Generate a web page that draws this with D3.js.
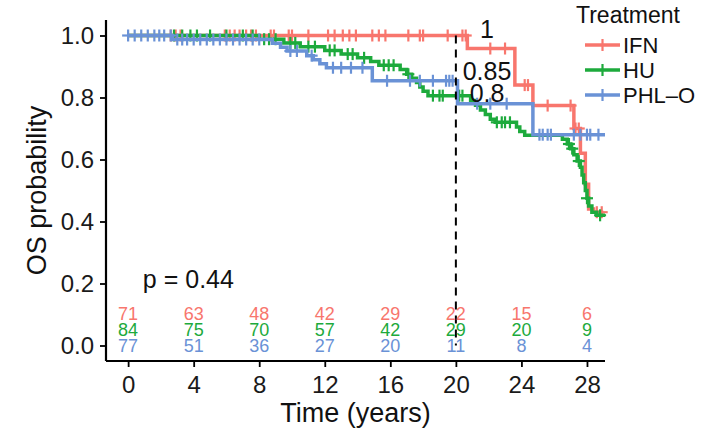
<!DOCTYPE html>
<html><head><meta charset="utf-8">
<script src="https://cdn.jsdelivr.net/npm/d3@7"></script>
<style>body{margin:0;background:#fff}svg{display:block;font-family:"Liberation Sans",Arial,sans-serif}</style>
</head><body><svg id="c" width="703" height="434"></svg>
<script>
const groups = ["IFN","HU","PHL\u2013O"];
const colors = ["#F8766D","#1DAA3C","#6A92D6"];
// step curves: time of event and survival after it
const ifnT = [0, 20.7, 23.6, 24.7, 27.2, 27.6, 27.9, 28.1, 28.4];
const ifnS = [1, 0.958, 0.84, 0.774, 0.70, 0.62, 0.52, 0.44, 0.43];
const ifnEnd = 29.0;
const ifnCens = [2.6,2.9,3.2,5.9,6.2,6.5,6.8,7.2,7.5,7.8,8.7,8.9,9.8,10.0,11.0,12.2,12.6,13.1,13.5,13.9,14.9,15.3,15.7,17.1,17.8,18.0,19.5,20.4,20.6,22.1,23.0,24.2,24.4,25.6,27.0,27.3,27.5,28.6,28.9];
const huT = [0, 8.0, 9.5, 10.5, 12.0, 13.0, 14.0, 14.8, 15.3, 16.6, 17.0, 17.3, 17.6, 17.8, 18.0, 18.3, 20.9, 21.2, 21.5, 21.8, 22.1, 22.4, 23.7, 23.9, 24.2, 26.5, 26.8, 27.0, 27.2, 27.4, 27.6, 27.7, 27.8, 27.9, 28.0, 28.1, 28.3, 28.6];
const huS = [1, 0.988, 0.976, 0.964, 0.952, 0.94, 0.928, 0.916, 0.904, 0.89, 0.875, 0.862, 0.848, 0.834, 0.82, 0.806, 0.79, 0.775, 0.76, 0.745, 0.73, 0.72, 0.705, 0.69, 0.678, 0.665, 0.65, 0.635, 0.615, 0.595, 0.575, 0.55, 0.525, 0.50, 0.475, 0.45, 0.43, 0.42];
const huEnd = 29.1;
const huCens = [2.8,3.3,3.8,4.2,5.0,6.0,7.0,7.6,8.3,8.6,9.0,9.9,10.2,11.0,11.4,12.3,12.6,13.4,13.7,14.4,15.6,15.9,16.2,17.1,18.6,19.0,19.2,20.2,20.4,22.5,22.8,23.0,23.3,26.9,27.1,27.5,28.0,28.8];
const phlT = [0, 2.7, 8.8, 9.3, 9.7, 10.9, 11.3, 11.7, 12.1, 14.9, 20.1, 24.7];
const phlS = [1, 0.987, 0.975, 0.962, 0.950, 0.935, 0.922, 0.909, 0.896, 0.854, 0.78, 0.68];
const phlEnd = 29.1;
const phlCens = [0.0,0.4,0.8,1.2,1.6,1.9,2.2,2.6,3.0,3.3,3.6,4.0,4.4,4.8,5.2,5.6,6.0,6.4,6.8,7.2,7.6,8.0,9.9,10.3,11.2,12.5,13.0,13.6,14.3,15.8,17.2,17.8,18.6,19.4,19.6,19.8,21.3,22.1,23.1,25.1,25.3,25.6,25.8,27.2,27.6,28.0,28.2,28.7];
const xTicks = [0,4,8,12,16,20,24,28];
const yTicks = [0,0.2,0.4,0.6,0.8,1.0];
const riskIFN = [71,63,48,42,29,22,15,6];
const riskHU = [84,75,70,57,42,29,20,9];
const riskPHL = [77,51,36,27,20,11,8,4];
const pText = "p = 0.44";
const markTime = 20;
const markVals = ["1","0.85","0.8"];
const markS = [1, 0.85, 0.8];

const series = [
  {T:ifnT,S:ifnS,end:ifnEnd,cens:ifnCens,risk:riskIFN},
  {T:huT,S:huS,end:huEnd,cens:huCens,risk:riskHU},
  {T:phlT,S:phlS,end:phlEnd,cens:phlCens,risk:riskPHL}
];

const svg = d3.select("#c");
const x = d3.scaleLinear().domain([-1.35, 29.1]).range([106, 605]);
const y = d3.scaleLinear().domain([-0.05, 1.05]).range([361, 20]);

function survAt(s, t){ let v = s.S[0]; for(let i=0;i<s.T.length;i++){ if(s.T[i]<=t) v=s.S[i]; } return v; }

// axes
const gx = svg.append("g").attr("transform","translate(0,361)")
  .call(d3.axisBottom(x).tickValues(xTicks).tickSize(6).tickPadding(9).tickFormat(d3.format("d")));
const gy = svg.append("g").attr("transform","translate(106,0)")
  .call(d3.axisLeft(y).tickValues(yTicks).tickSize(6).tickPadding(6).tickFormat(d3.format(".1f")));
[gx,gy].forEach(g=>{
  g.select(".domain").attr("stroke","#000").attr("stroke-width",2.2);
  g.selectAll(".tick line").attr("stroke","#000").attr("stroke-width",1.8);
  g.selectAll(".tick text").attr("fill","#1a1a1a").style("font-size","24px").style("font-family","Liberation Sans, Arial, sans-serif");
});
gx.select(".domain").attr("d","M106,0H605");
gy.select(".domain").attr("d","M0,20V361");

// curves
const line = d3.line().curve(d3.curveStepAfter).x(d=>x(d[0])).y(d=>y(d[1]));
series.forEach((s,i)=>{
  const pts = s.T.map((t,k)=>[t,s.S[k]]);
  pts.push([s.end, s.S[s.S.length-1]]);
  svg.append("path").attr("d",line(pts)).attr("fill","none")
    .attr("stroke",colors[i]).attr("stroke-width",3.5);
  const g = svg.append("g").attr("stroke",colors[i]).attr("stroke-width",2.2);
  s.cens.forEach(t=>{
    const cx = x(t), cy = y(survAt(s,t));
    g.append("line").attr("x1",cx).attr("x2",cx).attr("y1",cy-6).attr("y2",cy+6);
    g.append("line").attr("x1",cx-6).attr("x2",cx+6).attr("y1",cy).attr("y2",cy);
  });
});

// dashed marker line
svg.append("line").attr("x1",x(markTime)).attr("x2",x(markTime))
  .attr("y1",y(1)).attr("y2",y(0)).attr("stroke","#000").attr("stroke-width",2)
  .attr("stroke-dasharray","8,6");
const labOff = [2.5,-2,4.5];
markVals.forEach((m,i)=>{
  svg.append("text").attr("x",x(21.9)).attr("y",y(markS[i])+labOff[i])
    .attr("text-anchor","middle").style("font-size","25px").attr("fill","#111").text(m);
});

// p value
svg.append("text").attr("x",x(0.9)).attr("y",288).style("font-size","25px").attr("fill","#111").text(pText);

// risk numbers
const rowY = [320,336,352];
series.forEach((s,i)=>{
  s.risk.forEach((n,k)=>{
    svg.append("text").attr("x",x(xTicks[k])).attr("y",rowY[i]).attr("text-anchor","middle")
      .style("font-size","18px").attr("fill",colors[i]).text(n);
  });
});

// axis titles
svg.append("text").attr("x",355.5).attr("y",422).attr("text-anchor","middle").style("font-size","27px").attr("fill","#111").text("Time (years)");
svg.append("text").attr("transform","translate(46,190.5) rotate(-90)").attr("text-anchor","middle").style("font-size","27px").attr("fill","#111").text("OS probability");

// legend
svg.append("text").attr("x",576).attr("y",23).style("font-size","23px").attr("fill","#111").text("Treatment");
groups.forEach((gname,i)=>{
  const ly = 45 + i*25;
  svg.append("line").attr("x1",585).attr("x2",620).attr("y1",ly).attr("y2",ly).attr("stroke",colors[i]).attr("stroke-width",3.5);
  svg.append("line").attr("x1",602.5).attr("x2",602.5).attr("y1",ly-6).attr("y2",ly+6).attr("stroke",colors[i]).attr("stroke-width",2.2);
  svg.append("text").attr("x",623).attr("y",ly).attr("dy","0.36em").style("font-size","22px").attr("fill","#111").text(gname);
});
</script></body></html>
